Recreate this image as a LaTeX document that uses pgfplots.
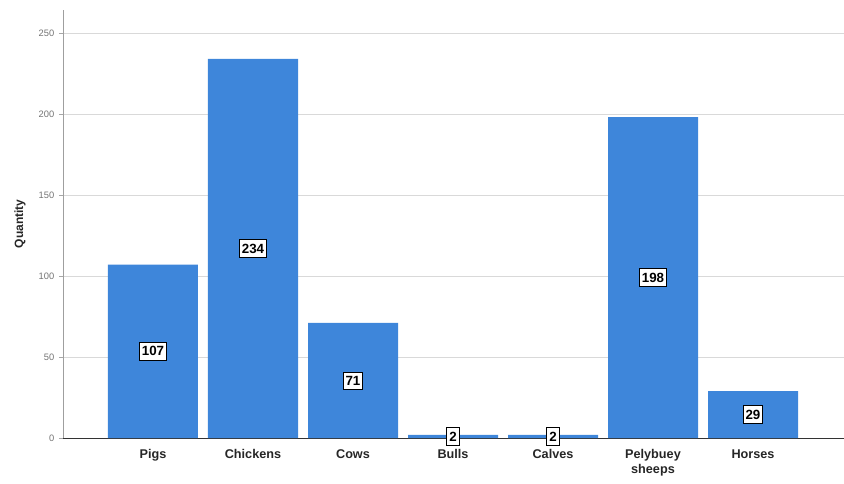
\documentclass[border=0pt]{standalone}
\usepackage{pgfplots}
\pgfplotsset{compat=1.18}
\usepackage{pgfplotstable}
\usepackage{fontspec}
\setmainfont{Liberation Sans}
\definecolor{barblue}{RGB}{62,134,218}
\pgfplotstableread{
x y
0 107
1 234
2 71
3 2
4 2
5 198
6 29
}\datatable

\begin{document}
\begin{tikzpicture}
\begin{axis}[name=ax, scale only axis, width=585.75pt, height=321pt,
 xmin=-0.9, xmax=6.91, ymin=0, ymax=264.2,
 axis x line*=bottom, axis y line*=left,
 xtick={0,...,6},
 xticklabels={Pigs\strut,Chickens\strut,Cows\strut,Bulls\strut,Calves\strut,{Pelybuey\strut\\sheeps\strut},Horses\strut},
 xticklabel style={font=\bfseries\fontsize{9.5}{11}\selectfont, align=center, text=black!85, anchor=north, yshift=-1.5pt},
 x tick style={draw=none},
 ytick={0,50,...,250},
 yticklabel style={font=\fontsize{7}{8}\selectfont, text=black!55},
 y tick style={gray!70},
 tick align=outside, major tick length=3pt,
 ymajorgrids, grid style={gray!30},
 y axis line style={gray!75},
 x axis line style={black!80},
 ylabel={Quantity},
 ylabel style={font=\bfseries\fontsize{9}{10}\selectfont, text=black!85, yshift=3pt},
 /pgf/number format/assume math mode=true,
 ]
\addplot[ybar, bar width=67.5pt, fill=barblue, draw=none,
 nodes near coords, point meta=y,
 visualization depends on={\thisrow{y}/2 \as \half},
 every node near coord/.append style={anchor=center, shift={(axis direction cs:0,-\half)}, fill=white, draw=black, inner xsep=1.8pt, inner ysep=3pt, font=\bfseries\fontsize{10}{11}\selectfont, line width=0.6pt, text=black}
] table[x=x,y=y]{\datatable};
\end{axis}
\pgfresetboundingbox
\path ([shift={(-47.25pt,-33.75pt)}]ax.south west) rectangle ([shift={(0pt,7.5pt)}]ax.north east);
\end{tikzpicture}
\end{document}
